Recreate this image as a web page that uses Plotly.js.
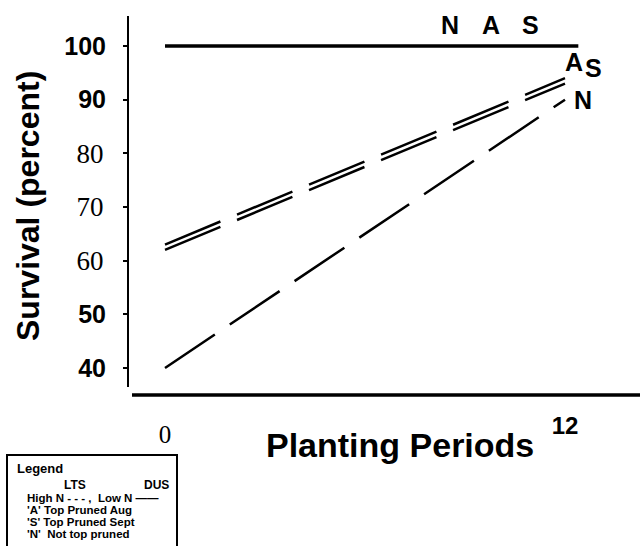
<!DOCTYPE html>
<html>
<head>
<meta charset="utf-8">
<script src="https://cdn.plot.ly/plotly-3.0.1.min.js"></script>
<style>html,body{margin:0;padding:0;background:#fff;}#chart{width:640px;height:546px;}</style>
</head>
<body>
<div id="chart"></div>
<script>
// ---- data ----
const periods = [0, 12];
const survivalA = [63, 94];   // 'A' Top pruned Aug (LTS, high N)
const survivalS = [62, 93];   // 'S' Top pruned Sept (LTS, high N)
const survivalN = [40, 90];   // 'N' Not top pruned (LTS, high N)
const dusX = [0, 12.4];
const dusY = [100, 100];      // DUS, low N: N, A, S all 100%
const yTickBoldVals = [40, 50, 90, 100];
const yTickBoldLabels = ['40', '50', '90', '100'];
const yTickSerifVals = [60, 70, 80];
const yTickSerifLabels = ['60', '70', '80'];
const xTickBoldVals = [12];
const xTickBoldLabels = ['12'];
const xTickSerifVals = [0];
const xTickSerifLabels = ['0'];

// ---- layout helpers (pixel -> paper) ----
const L = 128, R = 640, T = 16, B = 395;
const px = x => (x - L) / (R - L);
const py = y => (B - y) / (B - T);
const XR = [-1.11, 14.25], YR = [34.97, 105.59];

const F = 'Liberation Sans';
const SF = 'Liberation Serif';

const lineStyle = {color: '#000', width: 2.5, dash: '60px,18px'};
const traces = [
  {x: periods, y: survivalA, mode: 'lines', line: lineStyle, name: 'A'},
  {x: periods, y: survivalS, mode: 'lines', line: lineStyle, name: 'S'},
  {x: periods, y: survivalN, mode: 'lines', line: lineStyle, name: 'N'},
  {x: dusX, y: dusY, xaxis: 'x2', yaxis: 'y2', mode: 'lines', line: {color: '#000', width: 3.5}, name: 'DUS'}
];

const ann = [];
function addText(text, x, y, size) {
  ann.push({text: '<b>' + text + '</b>', x: x, y: y, xref: 'x', yref: 'y', showarrow: false,
    xanchor: 'center', yanchor: 'middle', font: {family: F, size: size, color: '#000'}});
}
// series labels
addText('N', 8.55, 103.9, 25);
addText('A', 9.78, 103.9, 25);
addText('S', 10.95, 103.9, 25);
addText('A', 12.27, 97.0, 25);
addText('S', 12.84, 95.9, 25);
addText('N', 12.54, 89.9, 25);
// axis titles
ann.push({text: '<b>Survival (percent)</b>', xref: 'paper', yref: 'paper', x: px(28), y: py(206),
  xanchor: 'center', yanchor: 'middle',
  textangle: -90, showarrow: false, font: {family: F, size: 32, color: '#000'}});
ann.push({text: '<b>Planting Periods</b>', xref: 'paper', yref: 'paper', x: px(400), y: py(445),
  xanchor: 'center', yanchor: 'middle',
  showarrow: false, font: {family: F, size: 34, color: '#000'}});
// legend box text
const lg = (text, x, y, anchor, size) => ann.push({text: '<b>' + text + '</b>', xref: 'paper', yref: 'paper',
  x: px(x), y: py(y), xanchor: anchor || 'left', yanchor: 'middle', showarrow: false, borderpad: 0,
  font: {family: F, size: size || 11.5, color: '#000'}});
lg('Legend', 16, 468, 'left', 13);
lg('LTS', 75, 485, 'center', 12);
lg('DUS', 156, 485, 'center', 12);
lg('High N - - - ,  Low N ——', 26, 498);
lg("'A' Top Pruned Aug", 26, 510);
lg("'S' Top Pruned Sept", 26, 522);
lg("'N'  Not top pruned", 26, 534);

const baseX = {range: XR, showgrid: false, zeroline: false, showline: false, ticks: '', tickmode: 'array'};
const baseY = {range: YR, showgrid: false, zeroline: false, showline: false, tickmode: 'array',
  ticks: 'outside', ticklen: 4, tickwidth: 2, tickcolor: '#000', ticklabelstandoff: 12};

const layout = {
  width: 640, height: 546,
  margin: {l: L, r: 640 - R, t: T, b: 546 - B, pad: 0},
  paper_bgcolor: '#fff', plot_bgcolor: '#fff',
  showlegend: false,
  xaxis: Object.assign({}, baseX, {tickvals: xTickBoldVals, ticktext: xTickBoldLabels, ticklabelstandoff: 14,
    tickfont: {family: F, size: 24, weight: 'bold', color: '#000'}}),
  xaxis2: Object.assign({}, baseX, {overlaying: 'x', anchor: 'y2', side: 'bottom',
    tickvals: xTickSerifVals, ticktext: xTickSerifLabels, ticklabelstandoff: 22,
    tickfont: {family: SF, size: 25, color: '#000'}}),
  yaxis: Object.assign({}, baseY, {tickvals: yTickBoldVals, ticktext: yTickBoldLabels,
    tickfont: {family: F, size: 25, weight: 'bold', color: '#000'}}),
  yaxis2: Object.assign({}, baseY, {overlaying: 'y', anchor: 'x2', side: 'left',
    tickvals: yTickSerifVals, ticktext: yTickSerifLabels, ticklabelstandoff: 14,
    tickfont: {family: SF, size: 27, color: '#000'}}),
  shapes: [
    {type: 'line', xref: 'paper', yref: 'paper', x0: 0, x1: 0, y0: py(387), y1: 1, line: {color: '#000', width: 2}},
    {type: 'line', xref: 'paper', yref: 'paper', x0: px(132), x1: 1, y0: 0, y1: 0, line: {color: '#000', width: 3.5}},
    {type: 'rect', xref: 'paper', yref: 'paper', x0: px(7), x1: px(177), y0: py(560), y1: py(455), line: {color: '#000', width: 2}}
  ],
  annotations: ann
};

Plotly.newPlot('chart', traces, layout, {displayModeBar: false, staticPlot: true});
</script>
</body>
</html>
